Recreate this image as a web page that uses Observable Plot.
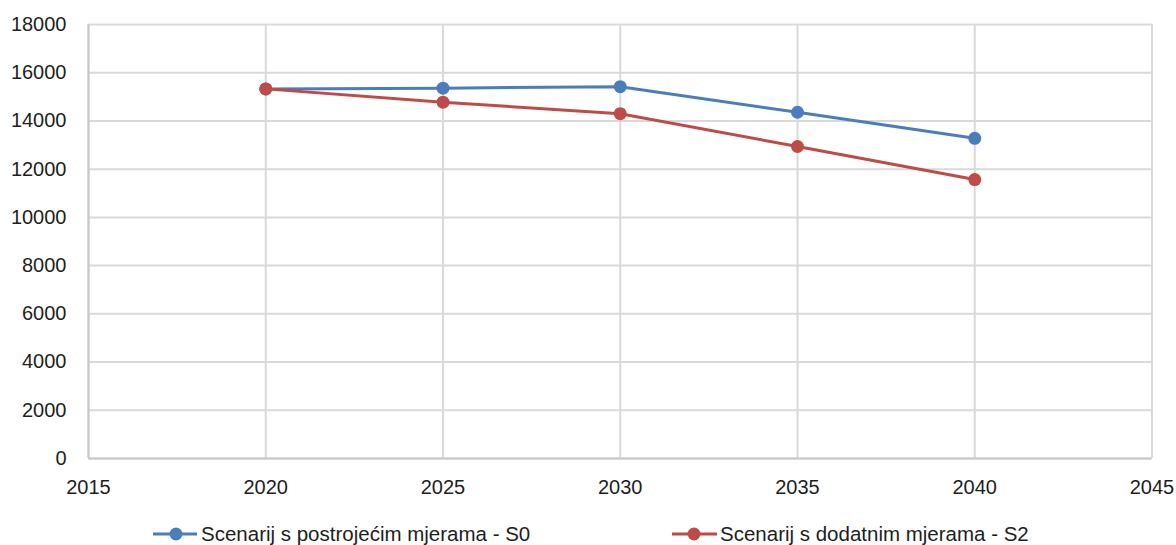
<!DOCTYPE html>
<html>
<head>
<meta charset="utf-8">
<script src="https://cdn.jsdelivr.net/npm/d3@7"></script>
<script src="https://cdn.jsdelivr.net/npm/@observablehq/plot@0.6"></script>
<style>
  html, body { margin: 0; padding: 0; background: #fff; }
  #chart { width: 1176px; }
  svg { display: block; }
</style>
</head>
<body>
<div id="chart"></div>
<script>
// Data
const years = [2020, 2025, 2030, 2035, 2040];
const seriesNames = ["Scenarij s postrojećim mjerama - S0", "Scenarij s dodatnim mjerama - S2"];
const s0Values = [15330, 15360, 15420, 14360, 13280];
const s2Values = [15330, 14780, 14300, 12940, 11570];
const xTicks = [2015, 2020, 2025, 2030, 2035, 2040, 2045];
const yTicks = [0, 2000, 4000, 6000, 8000, 10000, 12000, 14000, 16000, 18000];
const seriesColors = ["#4a7ebb", "#be4b48"];

const rows = [
  ...years.map((y, i) => ({year: y, value: s0Values[i], series: seriesNames[0]})),
  ...years.map((y, i) => ({year: y, value: s2Values[i], series: seriesNames[1]}))
];

const font = "'Liberation Sans', Arial, sans-serif";
const textColor = "#1e1e1e";

const plot = Plot.plot({
  width: 1176,
  height: 510,
  marginTop: 24,
  marginBottom: 52,
  marginLeft: 88,
  marginRight: 24.5,
  style: {fontFamily: font, fontSize: "20px", color: textColor, background: "#fff"},
  x: {domain: [2015, 2045], label: null},
  y: {domain: [0, 18000], label: null},
  color: {domain: seriesNames, range: seriesColors},
  marks: [
    Plot.gridX(xTicks, {stroke: "#d9d9d9", strokeOpacity: 1, strokeWidth: 2}),
    Plot.gridY(yTicks, {stroke: "#d9d9d9", strokeOpacity: 1, strokeWidth: 2}),
    Plot.ruleX([2015], {stroke: "#c8c8c8", strokeWidth: 2}),
    Plot.ruleY([0], {stroke: "#c8c8c8", strokeWidth: 2}),
    Plot.axisX(xTicks, {tickSize: 0, tickPadding: 21, tickFormat: d3.format("d"), fontSize: 20, fill: textColor, label: null}),
    Plot.axisY(yTicks, {tickSize: 0, tickPadding: 22, tickFormat: d3.format("d"), fontSize: 20, fill: textColor, label: null}),
    Plot.line(rows, {x: "year", y: "value", stroke: "series", z: "series", strokeWidth: 3}),
    Plot.dot(rows, {x: "year", y: "value", fill: "series", r: 6.5})
  ]
});

document.getElementById("chart").appendChild(plot);

// Legend below the plot
const legend = d3.create("svg")
  .attr("width", 1176)
  .attr("height", 35)
  .style("font-family", font)
  .style("font-size", "20.5px");

const legendItems = [
  {name: seriesNames[0], color: seriesColors[0], x0: 153, x1: 197, cx: 176, tx: 201},
  {name: seriesNames[1], color: seriesColors[1], x0: 672, x1: 717, cx: 694, tx: 720}
];
const g = legend.selectAll("g").data(legendItems).join("g");
g.append("line")
  .attr("x1", d => d.x0).attr("x2", d => d.x1)
  .attr("y1", 24).attr("y2", 24)
  .attr("stroke", d => d.color).attr("stroke-width", 3);
g.append("circle")
  .attr("cx", d => d.cx).attr("cy", 24).attr("r", 6.5)
  .attr("fill", d => d.color);
g.append("text")
  .attr("x", d => d.tx).attr("y", 31)
  .attr("fill", textColor)
  .text(d => d.name);

document.getElementById("chart").appendChild(legend.node());
</script>
</body>
</html>
